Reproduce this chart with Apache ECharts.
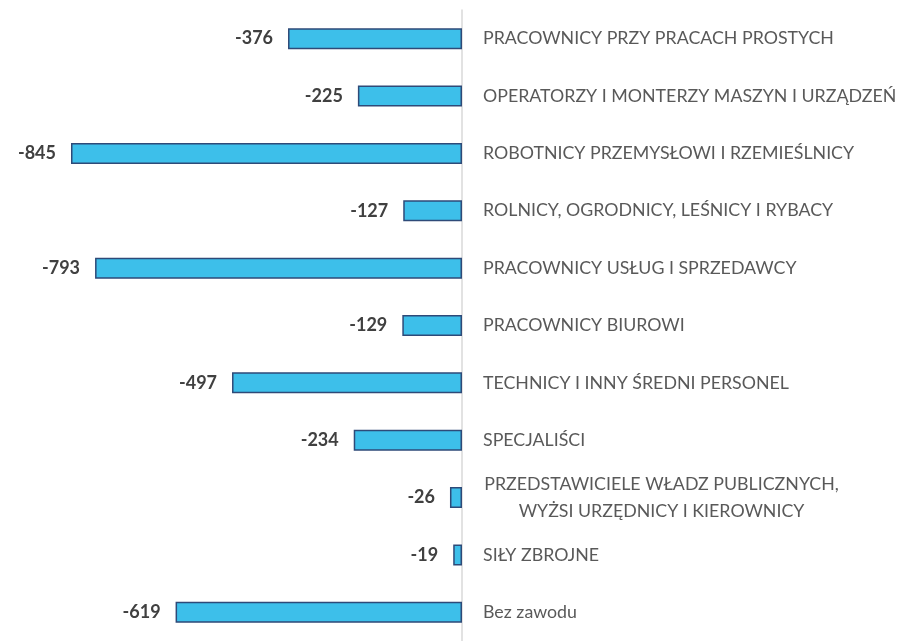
<!DOCTYPE html>
<html>
<head>
<meta charset="utf-8">
<script src="https://cdn.jsdelivr.net/npm/echarts@6/dist/echarts.min.js"></script>
<style>html,body{margin:0;padding:0;background:#fff;}#c{width:906px;height:641px;}</style>
</head>
<body>
<div id="c"></div>
<script>
const categories = [
  'PRACOWNICY PRZY PRACACH PROSTYCH',
  'OPERATORZY I MONTERZY MASZYN I URZĄDZEŃ',
  'ROBOTNICY PRZEMYSŁOWI I RZEMIEŚLNICY',
  'ROLNICY, OGRODNICY, LEŚNICY I RYBACY',
  'PRACOWNICY USŁUG I SPRZEDAWCY',
  'PRACOWNICY BIUROWI',
  'TECHNICY I INNY ŚREDNI PERSONEL',
  'SPECJALIŚCI',
  'PRZEDSTAWICIELE WŁADZ PUBLICZNYCH,\nWYŻSI URZĘDNICY I KIEROWNICY',
  'SIŁY ZBROJNE',
  'Bez zawodu'
];
const values = [-376, -225, -845, -127, -793, -129, -497, -234, -26, -19, -619];

const chart = echarts.init(document.getElementById('c'));
chart.setOption({
  animation: false,
  grid: { left: 71, right: 444, top: 10, bottom: -5, containLabel: false },
  xAxis: {
    type: 'value', min: -845, max: 0,
    show: false
  },
  yAxis: {
    type: 'category', data: categories, inverse: true, position: 'right',
    axisLine: { show: true, lineStyle: { color: '#D9D9D9', width: 1.5 } },
    axisTick: { show: false },
    axisLabel: {
      margin: 21, color: '#595959', fontSize: 17.8, fontFamily: 'Lato',
      formatter: function (v) {
        if (v.indexOf('\n') >= 0) {
          return v.split('\n').map(s => '{c|' + s + '}').join('\n');
        }
        return v;
      },
      rich: { c: { width: 357, align: 'center', color: '#595959', fontSize: 17.8, fontFamily: 'Lato', lineHeight: 27 } }
    }
  },
  series: [{
    type: 'bar', data: values, barWidth: 21,
    itemStyle: { color: '#3DBFEA', borderColor: '#2E4A78', borderWidth: 1.5 },
    label: {
      show: true, position: 'left', distance: 15,
      color: '#404040', fontWeight: 'bold', fontSize: 18, fontFamily: 'Lato'
    }
  }]
});
</script>
</body>
</html>
